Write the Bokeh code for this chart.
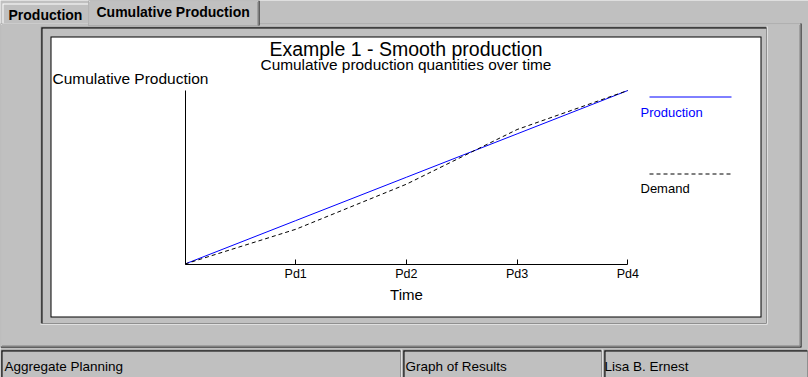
from bokeh.plotting import figure
from bokeh.models import Range1d, FixedTicker, BoxAnnotation, Label, Arrow, LinearAxis
from bokeh.embed import file_html
from bokeh.resources import INLINE

# ---------------- data ----------------
periods = [0, 1, 2, 3, 4]
period_labels = ["Pd1", "Pd2", "Pd3", "Pd4"]
production = [0, 250, 500, 750, 1000]
demand = [0, 200, 460, 775, 1000]

# ---------------- layout (pixels) ----------------
W, H = 808, 377
X0_PX, XN_PX = 184.5, 627.3      # pixel of period 0 / last period
Y0_PX, YT_PX = 263.5, 90.0       # pixel of 0 / max cumulative value
GRAY = "#c0c0c0"
DARK = "#808080"
FONT = "Liberation Sans"

y_max = max(production + demand)
n = periods[-1]
sx = (XN_PX - X0_PX) / n
sy = (Y0_PX - YT_PX) / y_max

p = figure(width=W, height=H, output_backend="svg", toolbar_location=None,
           x_range=Range1d(-X0_PX / sx, (W - X0_PX) / sx),
           y_range=Range1d(-(H - Y0_PX) / sy, Y0_PX / sy),
           x_axis_type=None, y_axis_type=None, min_border=0,
           background_fill_color=GRAY, border_fill_color=GRAY,
           outline_line_color=None)


def box(l, t, r, b, color):
    p.add_layout(BoxAnnotation(left=l, right=r, top=t, bottom=b,
                               left_units="canvas", right_units="canvas",
                               top_units="canvas", bottom_units="canvas",
                               fill_color=color, fill_alpha=1.0,
                               line_color=None, level="underlay"))


def label(x, y, text, size, color="black", align="left", style="normal"):
    p.add_layout(Label(x=x, y=H - y, x_units="screen", y_units="screen",
                       text=text, text_font=FONT, text_font_size=size,
                       text_color=color, text_align=align,
                       text_baseline="middle", text_font_style=style))


# ---- tab body ----
box(0, 23, 801, 347, "black")
box(0, 23, 800, 346, "white")
box(1, 24, 800, 346, DARK)
box(1, 24, 799, 345, GRAY)
# unselected tab
box(2, 3, 88, 23, "white")
box(3, 4, 88, 23, GRAY)
# selected tab
box(88, 0, 259, 25, "black")
box(88, 0, 258, 25, "white")
box(89, 1, 258, 25, DARK)
box(89, 1, 257, 25, GRAY)
label(8, 14, "Production", "14px", style="bold")
label(96, 11.5, "Cumulative Production", "14px", style="bold")

# ---- sunken frame around chart ----
box(40, 26, 767, 324, "white")
box(40, 26, 766, 323, DARK)
box(41, 27, 766, 323, "black")
box(42, 28, 766, 323, GRAY)
# chart panel
box(50, 36, 761, 317, "black")
box(51, 37, 760, 316, "white")

# ---- status bar ----
for (l, r) in [(0, 401), (402, 602), (603, 808)]:
    box(l, 349, r, 378, "white")
    box(l, 349, r - 1, 378, DARK)
    box(l + 1, 350, r - 1, 378, "black")
    box(l + 2, 351, r - 1, 378, GRAY)
label(4, 366, "Aggregate Planning", "13.5px")
label(405, 366, "Graph of Results", "13.5px")
label(604, 366, "Lisa B. Ernest", "13.5px")

# ---- titles ----
label(405.5, 48.5, "Example 1 - Smooth production", "19.5px", align="center")
label(405.5, 63.5, "Cumulative production quantities over time", "15.4px", align="center")
label(52, 77.5, "Cumulative Production", "15.5px")

# ---- axes ----
xaxis = LinearAxis(fixed_location=0, bounds=(0, n),
                   ticker=FixedTicker(ticks=periods[1:]),
                   major_label_overrides={pp: lab for pp, lab in zip(periods[1:], period_labels)},
                   axis_label="Time", axis_label_text_font=FONT,
                   axis_label_text_font_size="15px", axis_label_text_font_style="normal",
                   axis_label_text_color="black",
                   axis_label_standoff=1,
                   major_label_text_font=FONT, major_label_text_font_size="12.5px",
                   major_label_text_color="black",
                   major_label_standoff=3,
                   major_tick_in=5, major_tick_out=0,
                   minor_tick_in=0, minor_tick_out=0,
                   axis_line_color="black", major_tick_line_color="black")
p.add_layout(xaxis, "below")

yaxis = LinearAxis(fixed_location=0, bounds=(0, y_max),
                   ticker=FixedTicker(ticks=[]),
                   major_tick_in=0, major_tick_out=0,
                   minor_tick_in=0, minor_tick_out=0,
                   major_label_text_font_size="0px",
                   axis_line_color="black")
p.add_layout(yaxis, "left")

# ---- series ----
p.line(periods, production, line_color="#0000ff", line_width=1)
p.line(periods, demand, line_color="black", line_width=1, line_dash="4 3")

# ---- legend (custom, label under sample line) ----
p.add_layout(Arrow(x_start=649, y_start=H - 96.5, x_end=731, y_end=H - 96.5,
                   start_units="screen", end_units="screen", start=None, end=None,
                   line_color="#0000ff", line_width=1))
label(640, 112, "Production", "13px", color="#0000ff")
p.add_layout(Arrow(x_start=649, y_start=H - 173.5, x_end=731, y_end=H - 173.5,
                   start_units="screen", end_units="screen", start=None, end=None,
                   line_color="black", line_width=1, line_dash="4 3"))
label(640, 188, "Demand", "13px")

open("out.html", "w").write(file_html(p, INLINE))
